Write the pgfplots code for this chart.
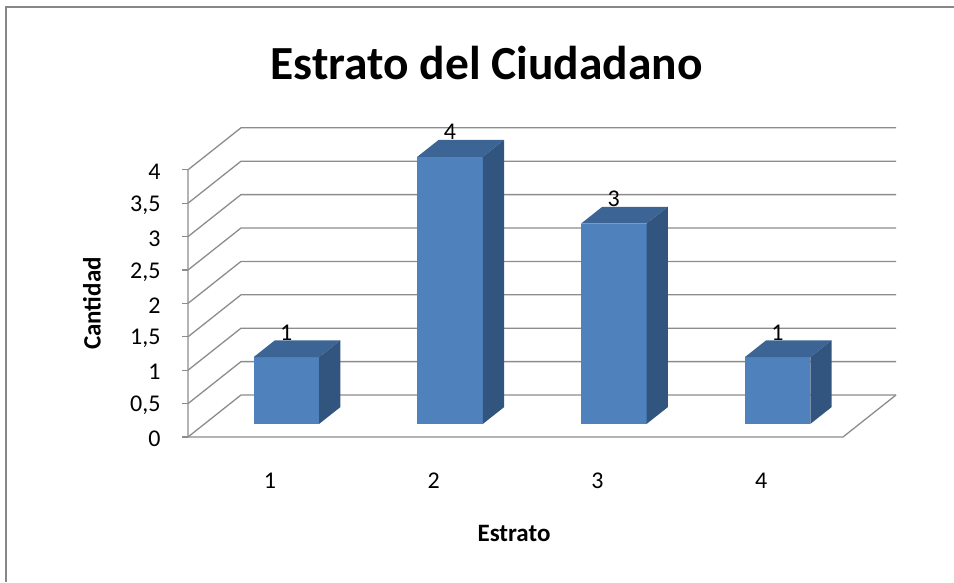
\documentclass[border=0pt]{standalone}
\usepackage{fontspec}
\setmainfont{Carlito}
\usepackage{pgfplots}
\pgfplotsset{compat=1.18}
\usepackage{pgfplotstable}

\definecolor{barfront}{RGB}{79,129,189}
\definecolor{bartop}{RGB}{60,101,149}
\definecolor{barside}{RGB}{50,85,128}
\definecolor{gridc}{RGB}{140,140,140}
\definecolor{framec}{RGB}{135,135,135}

\newcommand\ticfont{\fontsize{24}{28}\selectfont}
\newcommand\labfont{\fontsize{25}{30}\selectfont\bfseries}

% Estrato / Cantidad
\pgfplotstableread{
cat val
1 1
2 4
3 3
4 1
}\estrato

% one 3D column: front, top and right faces
\newcommand\cuboid[2]{%
  \pgfmathsetmacro\xl{#1-0.2}%
  \pgfmathsetmacro\xr{#1+0.2}%
  \edef\doit{%
    \noexpand\addplot3[fill=barfront, draw=none, no markers, forget plot]
      coordinates {(\xl,0.31,0) (\xr,0.31,0) (\xr,0.31,#2) (\xl,0.31,#2)};
    \noexpand\addplot3[fill=bartop, draw=none, no markers, forget plot]
      coordinates {(\xl,0.31,#2) (\xr,0.31,#2) (\xr,0.71,#2) (\xl,0.71,#2)};
    \noexpand\addplot3[fill=barside, draw=none, no markers, forget plot]
      coordinates {(\xr,0.31,0) (\xr,0.71,0) (\xr,0.71,#2) (\xr,0.31,#2)};
  }\doit}

\begin{document}
\begin{tikzpicture}
\begin{axis}[
  x={(163.75pt,0pt)}, y={(53pt,42pt)}, z={(0pt,66.8pt)},
  xmin=0.5, xmax=4.5, ymin=0, ymax=1, zmin=0, zmax=4,
  hide axis, clip=false,
]
% walls and grid
\pgfplotsinvokeforeach{0,0.5,...,4}{
  \draw[gridc, line width=1.3pt] (axis cs:0.5,0,#1) -- (axis cs:0.5,1,#1) -- (axis cs:4.5,1,#1);
  \draw[gridc, line width=1.3pt] (axis cs:0.5,0,#1) -- ++(-6pt,0pt);
  \node[anchor=east, font=\ticfont, xshift=-24pt, yshift=-2pt] at (axis cs:0.5,0,#1)
    {\pgfmathprintnumber[use comma, assume math mode=true]{#1}};
}
\draw[gridc, line width=1.3pt] (axis cs:0.5,0,4) -- (axis cs:0.5,0,0)
  -- (axis cs:4.5,0,0) -- (axis cs:4.5,1,0);
\pgfplotsinvokeforeach{1,...,4}{
  \node[font=\ticfont, yshift=-44pt] at (axis cs:#1,0,0) {#1};
}

% columns
\pgfplotsinvokeforeach{0,...,3}{
  \pgfplotstablegetelem{#1}{cat}\of\estrato \let\bx\pgfplotsretval
  \pgfplotstablegetelem{#1}{val}\of\estrato \let\bv\pgfplotsretval
  \cuboid{\bx}{\bv}
}

% value labels
\addplot3[only marks, mark=*, mark size=0pt, mark options={draw opacity=0, fill opacity=0},
  nodes near coords, point meta=explicit symbolic,
  nodes near coords style={font=\ticfont, text=black, text opacity=1, anchor=base, yshift=17pt}]
  table[x=cat, y expr=0.31, z=val, meta=val] {\estrato};

\coordinate (O) at (axis cs:0.5,0,0);
\end{axis}

\begin{scope}[shift={(O)}]
  \draw[framec, line width=2pt] (-182pt,-145pt) -- (-182pt,429.5pt) -- (766pt,429.5pt);
  \node[anchor=base, font=\fontsize{47.5}{54}\selectfont\bfseries] at (298.7pt,357pt)
    {Estrato del Ciudadano};
  \node[rotate=90, font=\labfont] at (-96pt,133.5pt) {Cantidad};
  \node[anchor=base, font=\labfont] at (326pt,-104.7pt) {Estrato};
\end{scope}

\pgfresetboundingbox
\path[use as bounding box, shift={(O)}] (-188pt,-145pt) rectangle (766pt,437pt);
\end{tikzpicture}
\end{document}
